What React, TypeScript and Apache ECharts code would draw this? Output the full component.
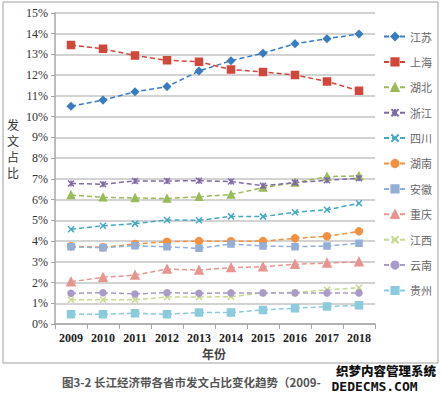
import React, { useEffect, useRef } from "react";
import * as echarts from "echarts";

const years = ["2009", "2010", "2011", "2012", "2013", "2014", "2015", "2016", "2017", "2018"];
const yTicks = [0, 1, 2, 3, 4, 5, 6, 7, 8, 9, 10, 11, 12, 13, 14, 15];
const yAxisTitle = ["发", "文", "占", "比"];

const jiangsu = [10.5, 10.8, 11.2, 11.45, 12.2, 12.7, 13.06, 13.52, 13.76, 13.99];
const shanghai = [13.46, 13.27, 12.95, 12.72, 12.65, 12.27, 12.16, 12.01, 11.7, 11.25];
const hubei = [6.22, 6.11, 6.08, 6.05, 6.14, 6.24, 6.58, 6.82, 7.11, 7.14];
const zhejiang = [6.78, 6.74, 6.9, 6.9, 6.91, 6.87, 6.67, 6.82, 6.93, 7.03];
const sichuan = [4.57, 4.74, 4.84, 5.02, 5.0, 5.19, 5.18, 5.39, 5.51, 5.82];
const hunan = [3.75, 3.7, 3.86, 3.97, 4.0, 3.99, 4.0, 4.13, 4.23, 4.47];
const anhui = [3.72, 3.68, 3.78, 3.72, 3.65, 3.86, 3.76, 3.73, 3.76, 3.9];
const chongqing = [2.04, 2.25, 2.36, 2.65, 2.6, 2.72, 2.76, 2.88, 2.94, 3.0];
const jiangxi = [1.17, 1.17, 1.17, 1.3, 1.3, 1.32, 1.5, 1.52, 1.65, 1.75];
const yunnan = [1.48, 1.51, 1.45, 1.51, 1.48, 1.5, 1.5, 1.5, 1.5, 1.5];
const guizhou = [0.47, 0.47, 0.52, 0.47, 0.55, 0.55, 0.68, 0.76, 0.84, 0.9];

const seriesDefs = [
  { name: "江苏", data: jiangsu, color: "#3b7cc0", symbol: "diamond", size: 7 },
  { name: "上海", data: shanghai, color: "#d2473c", symbol: "rect", size: 7 },
  { name: "湖北", data: hubei, color: "#9bbb59", symbol: "triangle", size: 7 },
  { name: "浙江", data: zhejiang, color: "#7f6aa8", symbol: "path://M0,0L10,10M10,0L0,10M5,0L5,10", size: 6 },
  { name: "四川", data: sichuan, color: "#43a8c6", symbol: "path://M0,0L10,10M10,0L0,10", size: 6 },
  { name: "湖南", data: hunan, color: "#f39140", symbol: "circle", size: 7 },
  { name: "安徽", data: anhui, color: "#93afd6", symbol: "path://M0,4L10,4L10,6L0,6Z", size: 6 },
  { name: "重庆", data: chongqing, color: "#e8948f", symbol: "triangle", size: 8 },
  { name: "江西", data: jiangxi, color: "#c6d98e", symbol: "path://M0,0L10,10M10,0L0,10", size: 6 },
  { name: "云南", data: yunnan, color: "#a99bc8", symbol: "circle", size: 6 },
  { name: "贵州", data: guizhou, color: "#8ccbdc", symbol: "rect", size: 7 },
];

export default function App() {
  const ref = useRef<HTMLDivElement>(null);
  useEffect(() => {
    document.body.style.margin = "0";
    const chart = echarts.init(ref.current!, null, { renderer: "svg" });
    const serif = "Liberation Serif";
    chart.setOption({
      animation: false,
      backgroundColor: "#ffffff",
      grid: { left: 55, right: 68, top: 13, bottom: 73 },
      legend: {
        orient: "vertical",
        left: 378,
        top: 26,
        itemWidth: 22,
        itemHeight: 9,
        itemGap: 14.4,
        textStyle: { fontFamily: "Noto Sans CJK SC", fontSize: 11, color: "#666", padding: [0, 0, 0, -1] },
        data: seriesDefs.map((s) => s.name),
      },
      xAxis: {
        type: "category",
        data: years,
        boundaryGap: true,
        axisLine: { lineStyle: { color: "#a6a6a6", width: 1.5 } },
        axisTick: { show: true, interval: 0, length: 5, lineStyle: { color: "#a6a6a6" } },
        axisLabel: { color: "#222", fontFamily: serif, fontWeight: "bold", fontSize: 12, margin: 8 },
      },
      yAxis: {
        type: "value",
        min: 0,
        max: 15,
        interval: 1,
        axisLine: { show: true, lineStyle: { color: "#a6a6a6", width: 1.5 } },
        axisTick: { show: true, length: 4, lineStyle: { color: "#a6a6a6" } },
        axisLabel: {
          color: "#333",
          fontFamily: serif,
          fontSize: 12,
          margin: 7,
          formatter: (v: number) => (yTicks.includes(v) ? v + "%" : ""),
        },
        splitLine: { lineStyle: { color: "#c4c4c4", width: 1.5 } },
      },
      series: seriesDefs.map((s) => ({
        name: s.name,
        type: "line",
        data: s.data,
        symbol: s.symbol,
        symbolSize: s.size,
        showSymbol: true,
        lineStyle: { color: s.color, width: 1.5, type: [5, 3] },
        itemStyle: { color: s.color, borderColor: s.color, borderWidth: 1.5 },
      })),
      graphic: [
        {
          type: "rect",
          shape: { x: 3, y: 2, width: 435, height: 361 },
          style: { fill: "none", stroke: "#a0a0a0", lineWidth: 1 },
          z: -1,
        },
        ...yAxisTitle.map((ch, i) => ({
          type: "text",
          left: 7,
          top: 118 + i * 16,
          style: { text: ch, font: "12px 'Noto Sans CJK SC'", fill: "#333" },
        })),
        {
          type: "text",
          left: 202,
          top: 347,
          style: { text: "年份", font: "bold 12px 'Noto Sans CJK SC'", fill: "#444" },
        },
        {
          type: "text",
          left: 62,
          top: 376,
          style: {
            text: "图3-2 长江经济带各省市发文占比变化趋势（2009-",
            font: "bold 11.5px 'Noto Sans CJK SC'",
            fill: "#555",
          },
        },
        {
          type: "text",
          left: 336,
          top: 364,
          style: { text: "织梦内容管理系统", font: "900 12.5px 'Noto Sans CJK SC'", fill: "#111" },
        },
        {
          type: "text",
          left: 331,
          top: 379,
          style: {
            text: "DEDECMS.COM",
            font: "bold 13px 'DejaVu Sans Mono'",
            fill: "#111",
            stroke: "#fff",
            lineWidth: 1,
          },
        },
      ],
    });
    return () => chart.dispose();
  }, []);
  return <div ref={ref} style={{ width: 443, height: 397, position: "absolute", left: 0, top: 0 }} />;
}
